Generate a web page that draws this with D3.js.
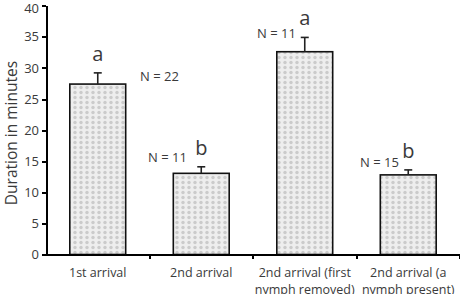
<!DOCTYPE html>
<html>
  <head>
    <script src="https://d3js.org/d3.v7.min.js"></script>
    <style>
      body { margin: 0; background: #fff; }
      .axis path, .axis line { stroke: #000; stroke-width: 2; shape-rendering: crispEdges; }
      text { font-family: "Open Sans", sans-serif; fill: #3a3a3a; }
    </style>
  </head>
  <body>
    <script>
      const categories = ['1st arrival', '2nd arrival', '2nd arrival (first\nnymph removed)', '2nd arrival (a\nnymph present)'];
      const means = [27.4, 13.05, 32.6, 12.8];
      const errTops = [29.2, 14.1, 34.9, 13.6];
      const letters = ['a', 'b', 'a', 'b'];
      const nLabels = ['N = 22', 'N = 11', 'N = 11', 'N = 15'];
      const yTicks = [0, 5, 10, 15, 20, 25, 30, 35, 40];

      const width = 460, height = 294;
      const x = d3.scaleBand().domain(categories).range([46, 460]).paddingInner(0.46).paddingOuter(0.23);
      const y = d3.scaleLinear().domain([0, 40]).range([254.5, 5.7]);

      const svg = d3.select('body').append('svg').attr('width', width).attr('height', height);

      const defs = svg.append('defs');
      const pat = defs.append('pattern').attr('id', 'dots').attr('patternUnits', 'userSpaceOnUse')
        .attr('width', 6).attr('height', 5);
      pat.append('rect').attr('width', 6).attr('height', 5).attr('fill', '#eeeeee');
      pat.append('circle').attr('cx', 3).attr('cy', 2.5).attr('r', 1.7).attr('fill', '#cbcbcb');

      // bars
      svg.selectAll('.bar').data(categories).enter().append('rect')
        .attr('x', d => x(d))
        .attr('y', (d, i) => y(means[i]))
        .attr('width', x.bandwidth())
        .attr('height', (d, i) => y(0) - y(means[i]))
        .attr('fill', 'url(#dots)')
        .attr('stroke', '#111').attr('stroke-width', 1.6);

      // error bars
      categories.forEach((c, i) => {
        const cx = x(c) + x.bandwidth() / 2;
        svg.append('line').attr('x1', cx).attr('x2', cx)
          .attr('y1', y(means[i])).attr('y2', y(errTops[i]))
          .attr('stroke', '#222').attr('stroke-width', 1.6);
        svg.append('line').attr('x1', cx - 4).attr('x2', cx + 4)
          .attr('y1', y(errTops[i])).attr('y2', y(errTops[i]))
          .attr('stroke', '#222').attr('stroke-width', 1.6);
      });

      // y axis
      svg.append('g').attr('class', 'axis').attr('transform', 'translate(46,0)')
        .call(d3.axisLeft(y).tickValues(yTicks).tickSize(4).tickSizeOuter(0))
        .call(g => g.selectAll('text').style('font-size', '13px').attr('fill', '#3a3a3a')
          .attr('font-family', '"Open Sans", sans-serif').attr('dy', d => d === 40 ? '0.5em' : '0.32em'));

      // x axis with ticks between categories
      const step = x.step();
      const xg = svg.append('g').attr('class', 'axis');
      xg.append('line').attr('x1', 46).attr('x2', 460).attr('y1', y(0)).attr('y2', y(0));
      categories.forEach((c, i) => {
        const cx = x(c) + x.bandwidth() / 2;
        const tx = cx + step / 2;
        xg.append('line').attr('x1', tx).attr('x2', tx).attr('y1', y(0)).attr('y2', y(0) + 4);
        c.split('\n').forEach((l, j) => {
          svg.append('text').attr('x', cx).attr('y', 277 + j * 16.5)
            .attr('text-anchor', 'middle').style('font-size', '12.5px').text(l);
        });
      });

      // letters and N labels
      categories.forEach((c, i) => {
        const cx = x(c) + x.bandwidth() / 2;
        svg.append('text').attr('x', cx).attr('y', y(errTops[i]) - 12)
          .attr('text-anchor', 'middle').style('font-size', '20px').text(letters[i]);
      });
      const nPos = [[140, 81], [148, 162], [257, 38], [360, 167]];
      nLabels.forEach((n, i) => {
        svg.append('text').attr('x', nPos[i][0]).attr('y', nPos[i][1]).style('font-size', '13px').text(n);
      });

      // y label
      svg.append('text').attr('transform', 'translate(17,133) rotate(-90)')
        .attr('text-anchor', 'middle').style('font-size', '15.5px').text('Duration in minutes');
    </script>
  </body>
</html>
